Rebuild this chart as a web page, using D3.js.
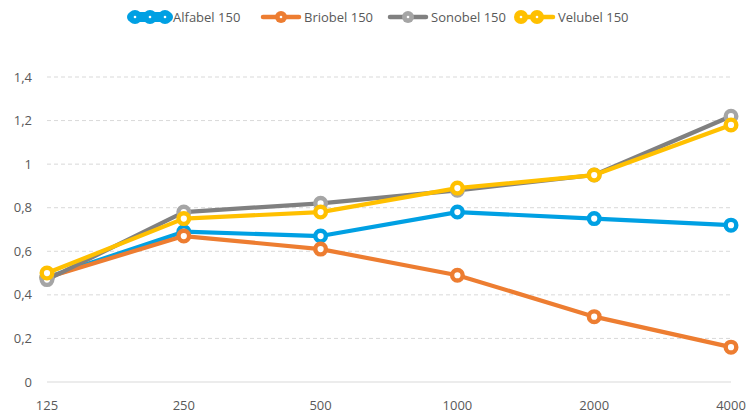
<!DOCTYPE html>
<html><head><meta charset="utf-8">
<script src="https://cdn.jsdelivr.net/npm/d3@7"></script>
<style>body{margin:0;background:#fff}svg{display:block}text{font-family:"Open Sans",Calibri,sans-serif;fill:#595959}</style>
</head><body><svg id="c" width="750" height="413"></svg>
<script>
const categories = ["125","250","500","1000","2000","4000"];
const yTicks = [0,0.2,0.4,0.6,0.8,1,1.2,1.4];
const seriesNames = ["Alfabel 150","Briobel 150","Sonobel 150","Velubel 150"];
const alfabel = [0.48,0.69,0.67,0.78,0.75,0.72];
const briobel = [0.48,0.67,0.61,0.49,0.30,0.16];
const sonobel = [0.47,0.78,0.82,0.88,0.95,1.22];
const velubel = [0.50,0.75,0.78,0.89,0.95,1.18];
const lineColors = ["#00A0E3","#ED7D31","#808080","#FFC000"];
const markColors = ["#00A0E3","#ED7D31","#A5A5A5","#FFC000"];
const data = [alfabel,briobel,sonobel,velubel];

const svg = d3.select("#c");
const x = d3.scalePoint().domain(categories).range([47,731]);
const y = d3.scaleLinear().domain([0,1.4]).range([382,77]);

svg.append("g").selectAll("line").data(yTicks).join("line")
  .attr("x1",47).attr("x2",731).attr("y1",d=>y(d)).attr("y2",d=>y(d))
  .attr("stroke","#d9d9d9").attr("stroke-width",1)
  .attr("stroke-dasharray",d=>d===0?null:"4,3");

svg.append("g").selectAll("text").data(yTicks).join("text")
  .attr("x",32).attr("y",d=>y(d)).attr("dy","0.35em").attr("text-anchor","end")
  .attr("font-size",13).text(d=>String(d).replace(".",","));
svg.append("g").selectAll("text").data(categories).join("text")
  .attr("x",d=>x(d)).attr("y",405).attr("dy","0.35em").attr("text-anchor","middle")
  .attr("font-size",13).text(d=>d);

const line = d3.line().x((d,i)=>x(categories[i])).y(d=>y(d));
data.forEach((s,k)=>{
  const g = svg.append("g");
  g.append("path").datum(s).attr("d",line).attr("fill","none")
   .attr("stroke",lineColors[k]).attr("stroke-width",4.2).attr("stroke-linejoin","round");
  g.selectAll("circle").data(s).join("circle")
   .attr("cx",(d,i)=>x(categories[i])).attr("cy",d=>y(d)).attr("r",5.3)
   .attr("fill","#fff").attr("stroke",markColors[k]).attr("stroke-width",4.4);
});

const legX = [130,261,388,515];
const lg = svg.append("g");
seriesNames.forEach((n,k)=>{
  const x0 = legX[k];
  const gi = lg.append("g");
  gi.append("line").attr("x1",x0+2).attr("x2",x0+38).attr("y1",17).attr("y2",17)
    .attr("stroke",lineColors[k]).attr("stroke-width",k===0?10:4.5).attr("stroke-linecap","round");
  const cs = k===0?[x0+5,x0+20,x0+35]:(k===3?[x0+6,x0+22]:[x0+20]);
  cs.forEach(cx=>{
    gi.append("circle").attr("cx",cx).attr("cy",17).attr("r",k===0||k===3?7:6).attr("fill",markColors[k]);
    gi.append("circle").attr("cx",cx).attr("cy",17).attr("r",1.3).attr("fill","#fff");
  });
  gi.append("text").attr("x",x0+43).attr("y",17).attr("dy","0.35em").attr("font-size",13).text(n);
});
</script></body></html>
